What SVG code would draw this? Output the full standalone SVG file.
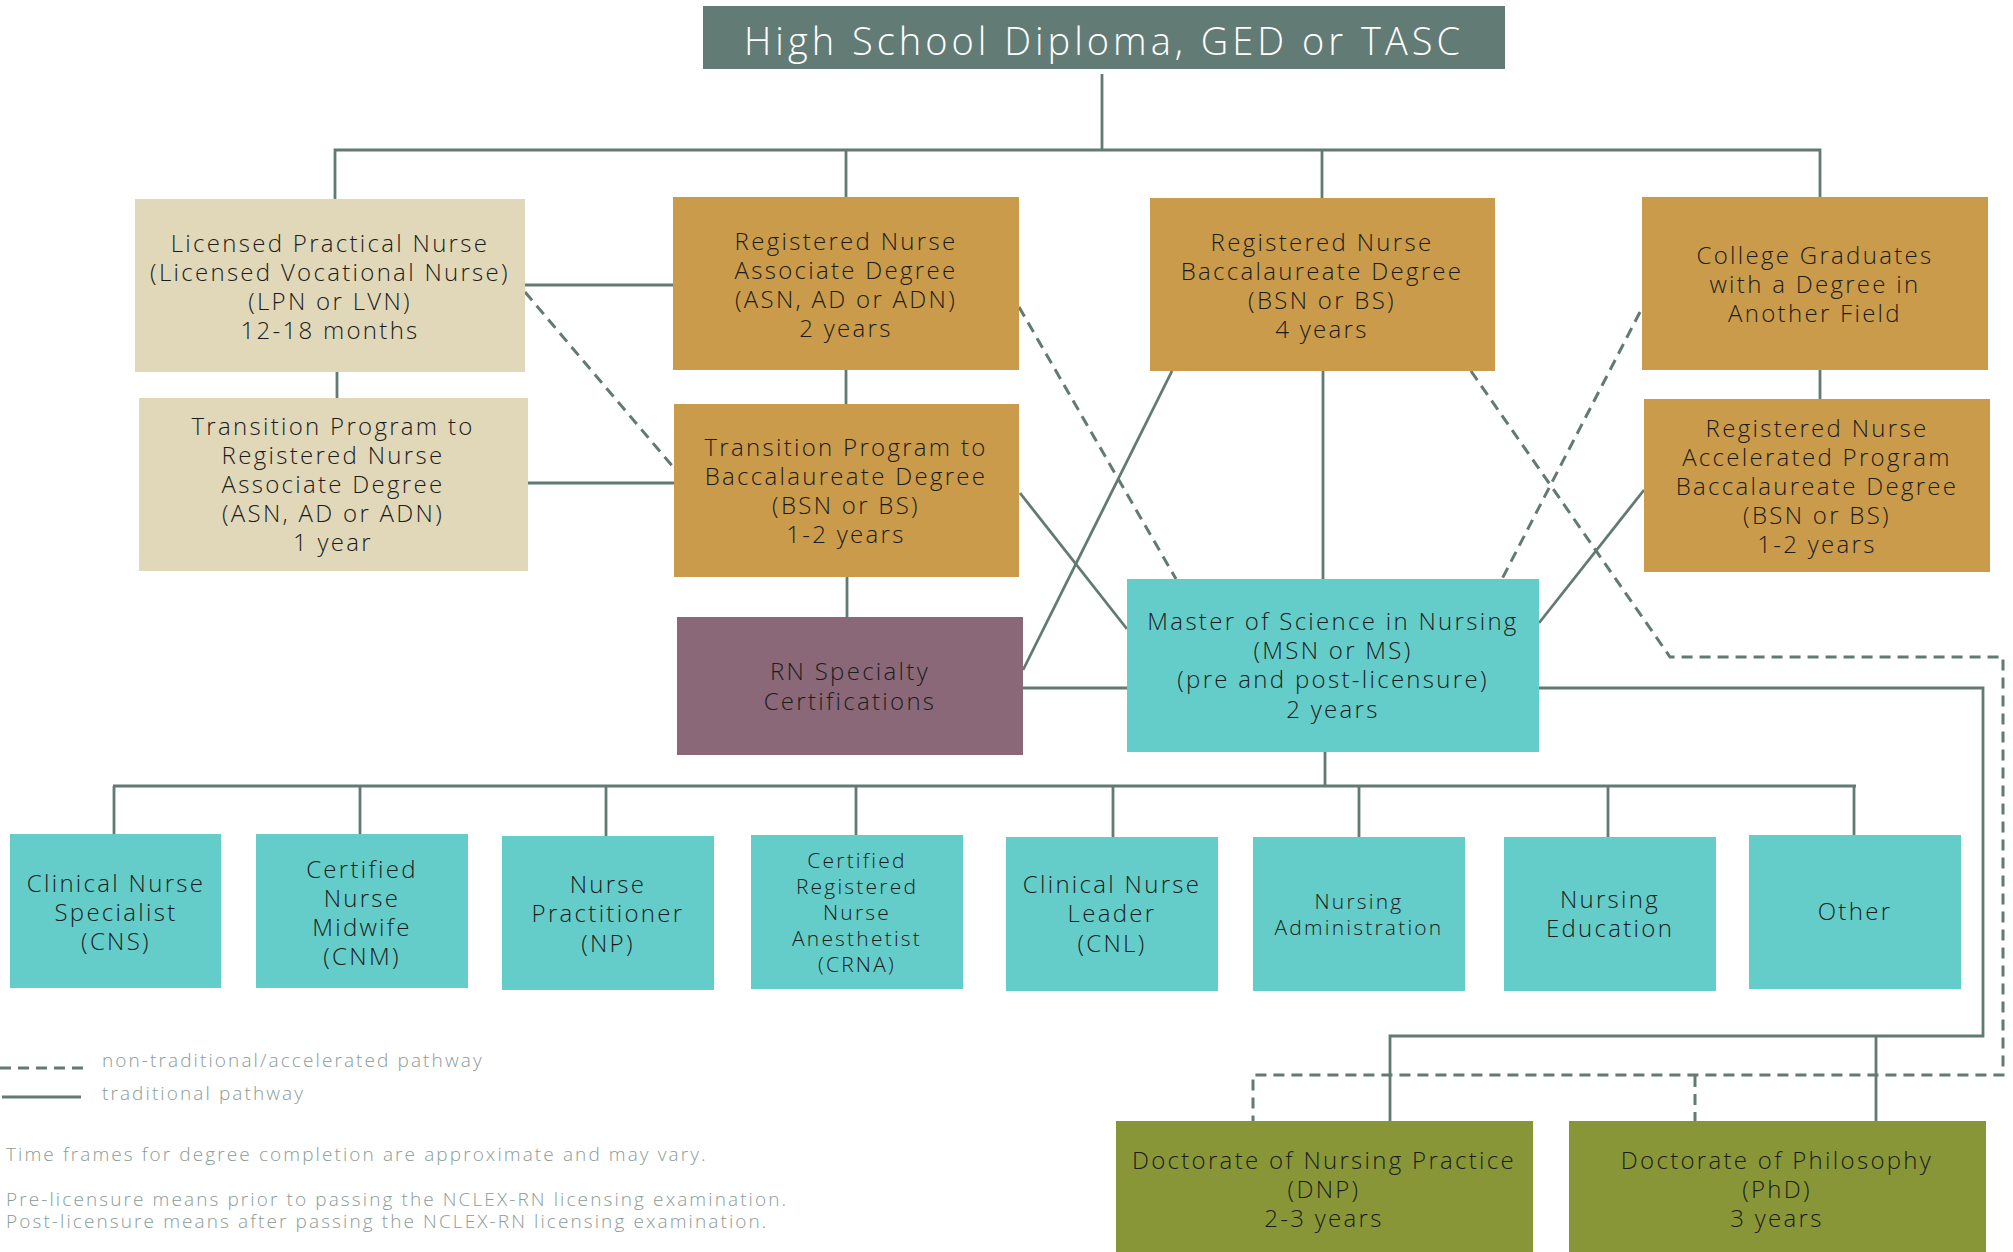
<svg xmlns="http://www.w3.org/2000/svg" width="2013" height="1252" viewBox="0 0 2013 1252">
<style>
.c{stroke:#617a74;stroke-width:2.8;fill:none}
.d{stroke:#617a74;stroke-width:3;fill:none;stroke-dasharray:11 7}
.t{font-family:"Open Sans","Liberation Sans",sans-serif;font-size:24px;letter-spacing:2.3px;fill:#1c1c1c;text-anchor:middle;font-weight:300}
.s{font-size:21px;letter-spacing:2.2px}
.h{font-size:38px;letter-spacing:4px;fill:#ffffff}
.l{font-family:"Open Sans","Liberation Sans",sans-serif;font-size:19px;letter-spacing:2.1px;fill:#8a9c97;font-weight:300}
.slate{fill:#627b75}.beige{fill:#e0d8b8}.gold{fill:#c99b4b}.purple{fill:#8a6878}.teal{fill:#64cdc9}.olive{fill:#889638}
</style>
<rect width="2013" height="1252" fill="#ffffff"/>
<g id="connectors">
<path class="c" d="M1102,74 V150"/>
<path class="c" d="M335,199 V150 H1820 V197"/>
<path class="c" d="M846,150 V197"/>
<path class="c" d="M1322,150 V198"/>
<path class="c" d="M525,285 H673"/>
<path class="c" d="M337,372 V398"/>
<path class="c" d="M528,483 H674"/>
<path class="c" d="M846,370 V404"/>
<path class="c" d="M847,577 V617"/>
<path class="c" d="M1023,688 H1127"/>
<path class="c" d="M1323,371 V579"/>
<path class="c" d="M1820,370 V399"/>
<path class="c" d="M1020,493 L1127,629"/>
<path class="c" d="M1172,371 L1023,670"/>
<path class="c" d="M1644,490 L1539,623"/>
<path class="c" d="M1325,752 V786"/>
<path class="c" d="M113,786 H1856"/>
<path class="c" d="M114,786 V834 M360,786 V834 M606,786 V836 M856,786 V835 M1113,786 V837 M1359,786 V837 M1608,786 V837 M1854,786 V835"/>
<path class="c" d="M1539,688 H1983 V1036 H1390 V1121"/>
<path class="c" d="M1876,1036 V1121"/>
<path class="d" d="M525,292 L674,468"/>
<path class="d" d="M1019,307 L1176,579"/>
<path class="d" d="M1640,312 L1502,579"/>
<path class="d" d="M1471,371 L1670,657 H2003 V1075 H1253 V1121"/>
<path class="d" d="M1695,1076 V1121"/>
</g>
<g id="hs"><rect class="slate" x="703" y="6" width="802" height="63"/><text class="t h" x="1104" y="55">High School Diploma, GED or TASC</text></g>
<g id="lpn"><rect class="beige" x="135" y="199" width="390" height="173"/>
<text class="t" x="330" y="252">Licensed Practical Nurse</text><text class="t" x="330" y="281">(Licensed Vocational Nurse)</text><text class="t" x="330" y="310">(LPN or LVN)</text><text class="t" x="330" y="339">12-18 months</text></g>
<g id="rnad"><rect class="gold" x="673" y="197" width="346" height="173"/>
<text class="t" x="846" y="250">Registered Nurse</text><text class="t" x="846" y="279">Associate Degree</text><text class="t" x="846" y="308">(ASN, AD or ADN)</text><text class="t" x="846" y="337">2 years</text></g>
<g id="rnbs"><rect class="gold" x="1150" y="198" width="345" height="173"/>
<text class="t" x="1322" y="251">Registered Nurse</text><text class="t" x="1322" y="280">Baccalaureate Degree</text><text class="t" x="1322" y="309">(BSN or BS)</text><text class="t" x="1322" y="338">4 years</text></g>
<g id="cg"><rect class="gold" x="1642" y="197" width="346" height="173"/>
<text class="t" x="1815" y="264">College Graduates</text><text class="t" x="1815" y="293">with a Degree in</text><text class="t" x="1815" y="322">Another Field</text></g>
<g id="trad"><rect class="beige" x="139" y="398" width="389" height="173"/>
<text class="t" x="333" y="435">Transition Program to</text><text class="t" x="333" y="464">Registered Nurse</text><text class="t" x="333" y="493">Associate Degree</text><text class="t" x="333" y="522">(ASN, AD or ADN)</text><text class="t" x="333" y="551">1 year</text></g>
<g id="trbs"><rect class="gold" x="674" y="404" width="345" height="173"/>
<text class="t" x="846" y="456">Transition Program to</text><text class="t" x="846" y="485">Baccalaureate Degree</text><text class="t" x="846" y="514">(BSN or BS)</text><text class="t" x="846" y="543">1-2 years</text></g>
<g id="accel"><rect class="gold" x="1644" y="399" width="346" height="173"/>
<text class="t" x="1817" y="437">Registered Nurse</text><text class="t" x="1817" y="466">Accelerated Program</text><text class="t" x="1817" y="495">Baccalaureate Degree</text><text class="t" x="1817" y="524">(BSN or BS)</text><text class="t" x="1817" y="553">1-2 years</text></g>
<g id="spec"><rect class="purple" x="677" y="617" width="346" height="138"/>
<text class="t" x="850" y="680">RN Specialty</text><text class="t" x="850" y="710">Certifications</text></g>
<g id="msn"><rect class="teal" x="1127" y="579" width="412" height="173"/>
<text class="t" x="1333" y="630">Master of Science in Nursing</text><text class="t" x="1333" y="659">(MSN or MS)</text><text class="t" x="1333" y="688">(pre and post-licensure)</text><text class="t" x="1333" y="718">2 years</text></g>
<g id="cns"><rect class="teal" x="10" y="834" width="211" height="154"/>
<text class="t" x="116" y="892">Clinical Nurse</text><text class="t" x="116" y="921">Specialist</text><text class="t" x="116" y="950">(CNS)</text></g>
<g id="cnm"><rect class="teal" x="256" y="834" width="212" height="154"/>
<text class="t" x="362" y="878">Certified</text><text class="t" x="362" y="907">Nurse</text><text class="t" x="362" y="936">Midwife</text><text class="t" x="362" y="965">(CNM)</text></g>
<g id="np"><rect class="teal" x="502" y="836" width="212" height="154"/>
<text class="t" x="608" y="893">Nurse</text><text class="t" x="608" y="922">Practitioner</text><text class="t" x="608" y="952">(NP)</text></g>
<g id="crna"><rect class="teal" x="751" y="835" width="212" height="154"/>
<text class="t s" x="857" y="868">Certified</text><text class="t s" x="857" y="894">Registered</text><text class="t s" x="857" y="920">Nurse</text><text class="t s" x="857" y="946">Anesthetist</text><text class="t s" x="857" y="972">(CRNA)</text></g>
<g id="cnl"><rect class="teal" x="1006" y="837" width="212" height="154"/>
<text class="t" x="1112" y="893">Clinical Nurse</text><text class="t" x="1112" y="922">Leader</text><text class="t" x="1112" y="952">(CNL)</text></g>
<g id="admin"><rect class="teal" x="1253" y="837" width="212" height="154"/>
<text class="t s" x="1359" y="909">Nursing</text><text class="t s" x="1359" y="935">Administration</text></g>
<g id="edu"><rect class="teal" x="1504" y="837" width="212" height="154"/>
<text class="t" x="1610" y="908">Nursing</text><text class="t" x="1610" y="937">Education</text></g>
<g id="other"><rect class="teal" x="1749" y="835" width="212" height="154"/>
<text class="t" x="1855" y="920">Other</text></g>
<g id="dnp"><rect class="olive" x="1116" y="1121" width="417" height="140"/>
<text class="t" x="1324" y="1169">Doctorate of Nursing Practice</text><text class="t" x="1324" y="1198">(DNP)</text><text class="t" x="1324" y="1227">2-3 years</text></g>
<g id="phd"><rect class="olive" x="1569" y="1121" width="417" height="140"/>
<text class="t" x="1777" y="1169">Doctorate of Philosophy</text><text class="t" x="1777" y="1198">(PhD)</text><text class="t" x="1777" y="1227">3 years</text></g>
<g id="legend">
<path class="d" d="M0,1068 H83"/>
<path class="c" d="M2,1097 H81"/>
<text class="l" x="102" y="1067">non-traditional/accelerated pathway</text>
<text class="l" x="102" y="1100">traditional pathway</text>
<text class="l" x="6" y="1161">Time frames for degree completion are approximate and may vary.</text>
<text class="l" x="6" y="1206">Pre-licensure means prior to passing the NCLEX-RN licensing examination.</text>
<text class="l" x="6" y="1228">Post-licensure means after passing the NCLEX-RN licensing examination.</text>
</g>
</svg>
